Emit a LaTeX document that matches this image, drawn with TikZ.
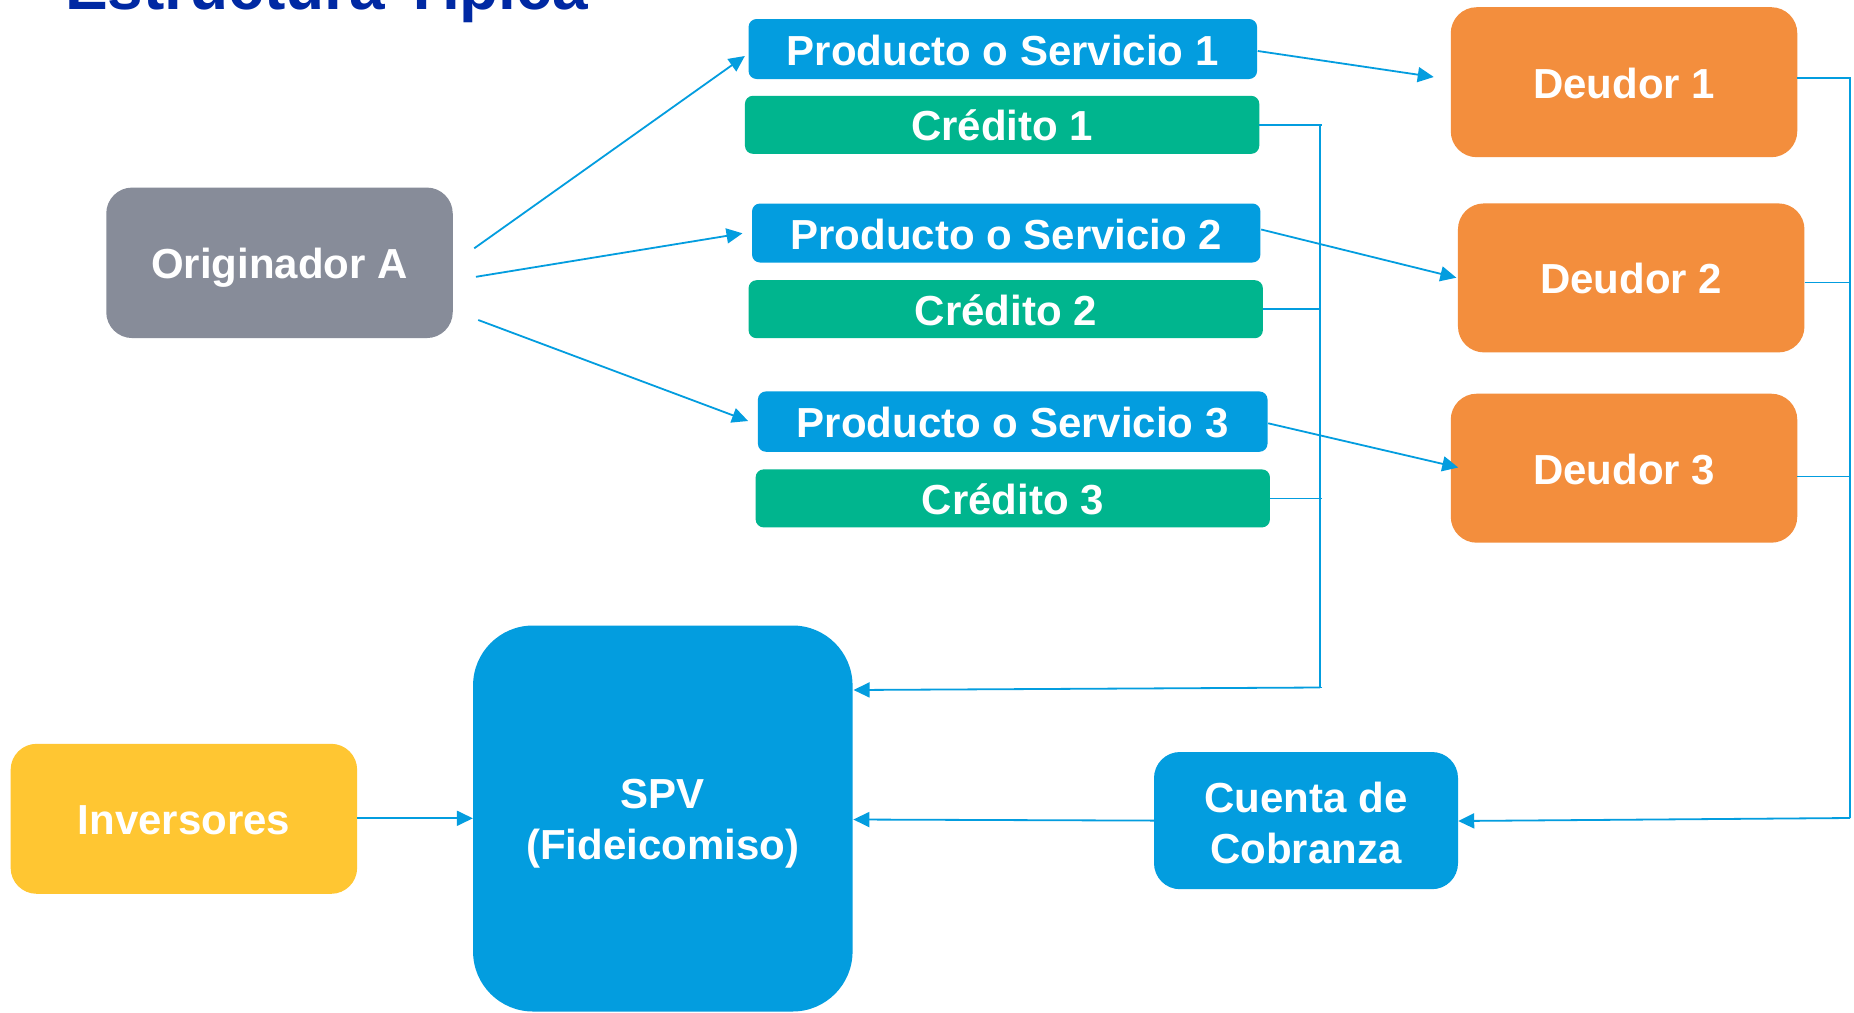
\documentclass[tikz,border=0pt]{standalone}
\usepackage{fontspec}
\setmainfont{Liberation Sans}
\usetikzlibrary{arrows.meta,calc}

\definecolor{boxblue}{RGB}{3,157,223}
\definecolor{boxgreen}{RGB}{0,181,142}
\definecolor{boxorange}{RGB}{243,142,61}
\definecolor{boxgray}{RGB}{135,140,153}
\definecolor{boxyellow}{RGB}{255,198,50}
\definecolor{titlenavy}{RGB}{0,41,163}

\begin{document}
\begin{tikzpicture}[x=1pt,y=-1pt,
  box/.style={rectangle,inner sep=0pt,text=white,align=center,
    font=\fontsize{42}{51.5}\selectfont\bfseries},
  oneline/.style={box,text height=32pt,text depth=0pt},
  bigbox/.style={oneline,rounded corners=26pt,minimum width=346.5pt,minimum height=150pt},
  bar/.style={oneline,rounded corners=8pt,minimum height=59pt},
  link/.style={draw=boxblue,line width=1.8pt},
  arr/.style={-{Triangle[length=16pt,width=15pt]}}
]
\useasboundingbox (0,0) rectangle (1854,1012);
\clip (0,0) rectangle (1854,1012);
\fill[white] (0,0) rectangle (1854,1012);

% heading, partly cut by the top edge
\node[anchor=base west,inner sep=0pt,text=titlenavy,
      font=\fontsize{64}{70}\selectfont\bfseries] (title) at (65,9) {Estructura Típica};

% originator
\node[bigbox,fill=boxgray,minimum height=150.5pt] (orig) at (279.5,262.8) {Originador A};

% products / services and credits
\node[bar,fill=boxblue,minimum width=508.5pt,minimum height=60pt] (pos1) at (1002.8,49) {Producto o Servicio 1};
\node[bar,fill=boxgreen,minimum width=514.3pt,minimum height=58pt] (cred1) at (1002.1,124.8) {Crédito 1};
\node[bar,fill=boxblue,minimum width=508.4pt] (pos2) at (1006.2,233) {Producto o Servicio 2};
\node[bar,fill=boxgreen,minimum width=514.3pt,minimum height=58pt] (cred2) at (1005.7,309.2) {Crédito 2};
\node[bar,fill=boxblue,minimum width=509.6pt,minimum height=60.3pt] (pos3) at (1012.7,421.6) {Producto o Servicio 3};
\node[bar,fill=boxgreen,minimum width=514.3pt,minimum height=58pt] (cred3) at (1012.8,498.4) {Crédito 3};

% debtors
\node[bigbox,fill=boxorange] (deu1) at (1624,82.2) {Deudor 1};
\node[bigbox,fill=boxorange,minimum height=149pt] (deu2) at (1631.2,277.9) {Deudor 2};
\node[bigbox,fill=boxorange,minimum height=149pt] (deu3) at (1624,468.2) {Deudor 3};

% bottom row
\node[bigbox,fill=boxyellow] (inv) at (183.9,818.8) {Inversores};
\node[box,fill=boxblue,rounded corners=60pt,minimum width=379.5pt,minimum height=386pt] (spv) at (662.8,818.5) {};
\node[box] (spvtext) at ($(spv.center)+(0,5)$) {SPV\\(Fideicomiso)};
\node[box,fill=boxblue,rounded corners=26pt,minimum width=304pt,minimum height=137.2pt] (cue) at (1306,820.6) {};
\node[box] (cuetext) at ($(cue.center)+(0,2.5)$) {Cuenta de\\Cobranza};

% originator to products
\draw[link,arr] ($(orig.east)+(21.3,-14.5)$) -- ($(pos1.west)+(-3.5,7)$);
\draw[link,arr] ($(orig.east)+(23,14)$) -- ($(pos2.west)+(-9.3,0.3)$);
\draw[link,arr] ($(orig.east)+(25.3,57.2)$) -- ($(pos3.west)+(-9.6,-0.6)$);

% products to debtors
\draw[link,arr] ($(pos1.east)+(0.5,2)$) -- ($(deu1.west)+(-16.8,-5.2)$);
\draw[link,arr] ($(pos2.east)+(0.6,-3.5)$) -- ($(deu2.west)+(-1.4,-0.2)$);
\draw[link,arr] ($(pos3.east)+(0.5,1.7)$) -- ($(deu3.west)+(7.7,-0.7)$);

% credits collected into the trust
\coordinate (cbT) at (1320,124.8);
\coordinate (cbB) at (1320,687.5);
\draw[link] (cred1.east) -- ++(62.7,0);
\draw[link] (cbT) -- (cbB);
\draw[link] (cred2.east) -- (cred2.east -| cbT);
\draw[link] (cred3.east) -- ++(52,0);
\draw[link] ($(cbB)+(2,0)$) -- (cbB);
\draw[link,arr] (cbB) -- ($(spv.east)+(0.8,-128.5)$);

% debtors pay into the collection account
\coordinate (dbT) at (1850,78);
\coordinate (dbB) at (1850,818);
\draw[link] ($(deu1.east)+(0,-4.2)$) -- (dbT) -- (dbB);
\draw[link] ($(deu2.east)+(0,4.6)$) coordinate (d2) -- (d2 -| dbT);
\draw[link] ($(deu3.east)+(0,8.3)$) coordinate (d3) -- (d3 -| dbT);
\draw[link,arr] (dbB) -- ($(cue.east)+(0,0.4)$);

% collection account and investors into the trust
\draw[link,arr] (cue.west) -- ($(spv.east)+(0.6,1)$);
\draw[link,arr] ($(inv.east)+(0,-0.5)$) -- ($(spv.west)+(0,-0.2)$);
\end{tikzpicture}
\end{document}
